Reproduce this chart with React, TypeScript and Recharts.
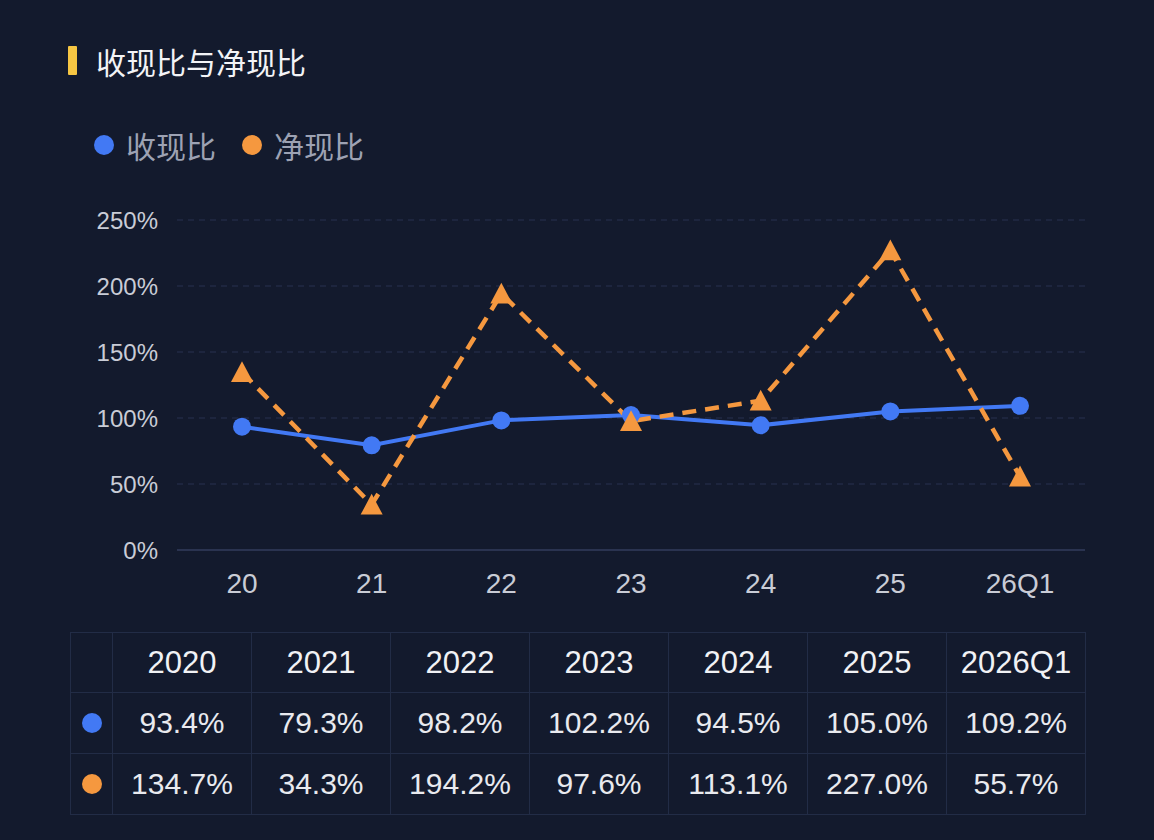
import React from 'react';
import { LineChart, Line, XAxis, YAxis, CartesianGrid } from 'recharts';

const categories = ['20', '21', '22', '23', '24', '25', '26Q1'];
const tableHeaders = ['2020', '2021', '2022', '2023', '2024', '2025', '2026Q1'];
const cashRevenueRatio = [93.4, 79.3, 98.2, 102.2, 94.5, 105.0, 109.2];
const netCashRatio = [134.7, 34.3, 194.2, 97.6, 113.1, 227.0, 55.7];
const yTicks = [0, 50, 100, 150, 200, 250];

const title = '收现比与净现比';
const seriesNames = ['收现比', '净现比'];
const BLUE = '#4279f4';
const ORANGE = '#f5983f';
const BG = '#131a2d';
const FONT = '"Liberation Sans", Arial, "Noto Sans CJK SC", sans-serif';

const data = categories.map((c, i) => ({
  name: c,
  a: cashRevenueRatio[i],
  b: netCashRatio[i],
}));

const Triangle = (props: any) => {
  const { cx, cy } = props;
  if (cx == null || cy == null) return null;
  const s = 22;
  const h = s * 0.9;
  return (
    <path
      d={`M${cx},${cy - h / 2 - 1} L${cx + s / 2},${cy + h / 2} L${cx - s / 2},${cy + h / 2} Z`}
      fill={ORANGE}
    />
  );
};

export default function App() {
  const colors = [BLUE, ORANGE];
  const rows = [cashRevenueRatio, netCashRatio];
  const cellBorder = '1px solid #222c46';
  return (
    <div
      style={{
        position: 'fixed',
        left: 0,
        top: 0,
        width: 1154,
        height: 840,
        background: BG,
        fontFamily: FONT,
        overflow: 'hidden',
      }}
    >
      <div style={{ position: 'absolute', left: 68, top: 46, width: 9, height: 29, background: '#f6c643', borderRadius: 1 }} />
      <div
        style={{
          position: 'absolute',
          left: 96,
          top: 41,
          fontSize: 30,
          lineHeight: '40px',
          color: '#f2f3f6',
          fontWeight: 400,
          fontFamily: '"Noto Sans CJK SC", sans-serif',
        }}
      >
        {title}
      </div>
      <div style={{ position: 'absolute', left: 94, top: 125, display: 'flex', alignItems: 'center' }}>
        {seriesNames.map((n, i) => (
          <div key={n} style={{ display: 'flex', alignItems: 'center', marginRight: 26 }}>
            <div style={{ width: 20, height: 20, borderRadius: 10, background: colors[i], marginRight: 12 }} />
            <span style={{ fontSize: 30, lineHeight: '40px', color: '#9da2b3', fontFamily: '"Noto Sans CJK SC", sans-serif' }}>{n}</span>
          </div>
        ))}
      </div>
      <div style={{ position: 'absolute', left: 0, top: 200 }}>
        <LineChart width={1154} height={410} data={data} margin={{ top: 20, right: 69, bottom: 0, left: 0 }}>
          <CartesianGrid vertical={false} stroke="#283150" strokeDasharray="6 5" />
          <XAxis
            dataKey="name"
            padding={{ left: 65, right: 65 }}
            axisLine={{ stroke: '#2a3350', strokeWidth: 2 }}
            tickLine={false}
            tickMargin={17}
            height={60}
            tick={{ fill: '#c9ccd6', fontSize: 28, fontFamily: FONT }}
            interval={0}
          />
          <YAxis
            width={177}
            domain={[0, 250]}
            ticks={yTicks}
            axisLine={false}
            tickLine={false}
            tickMargin={13}
            tickFormatter={(v: number) => `${v}%`}
            tick={{ fill: '#c9ccd6', fontSize: 24, fontFamily: FONT }}
          />
          <Line
            type="linear"
            dataKey="a"
            stroke={BLUE}
            strokeWidth={4}
            dot={{ r: 9, fill: BLUE, stroke: BLUE, strokeWidth: 0 }}
            isAnimationActive={false}
          />
          <Line
            type="linear"
            dataKey="b"
            stroke={ORANGE}
            strokeWidth={4.5}
            strokeDasharray="14 9"
            dot={<Triangle />}
            isAnimationActive={false}
          />
        </LineChart>
      </div>
      <table
        style={{
          position: 'absolute',
          left: 70,
          top: 632,
          borderCollapse: 'collapse',
          tableLayout: 'fixed',
          width: 1015,
          fontFamily: FONT,
        }}
      >
        <colgroup>
          <col style={{ width: 42 }} />
          {tableHeaders.map((h) => (
            <col key={h} style={{ width: 139 }} />
          ))}
        </colgroup>
        <tbody>
          <tr style={{ height: 60 }}>
            <td style={{ border: cellBorder }} />
            {tableHeaders.map((h) => (
              <td key={h} style={{ border: cellBorder, textAlign: 'center', color: '#f1f2f5', fontSize: 31, padding: 0 }}>
                {h}
              </td>
            ))}
          </tr>
          {rows.map((r, ri) => (
            <tr key={ri} style={{ height: 61 }}>
              <td style={{ border: cellBorder, padding: 0 }}>
                <div style={{ width: 20, height: 20, borderRadius: 10, background: colors[ri], margin: '0 auto' }} />
              </td>
              {r.map((v, i) => (
                <td key={i} style={{ border: cellBorder, textAlign: 'center', color: '#e9eaef', fontSize: 30, padding: 0 }}>
                  {v.toFixed(1)}%
                </td>
              ))}
            </tr>
          ))}
        </tbody>
      </table>
    </div>
  );
}
